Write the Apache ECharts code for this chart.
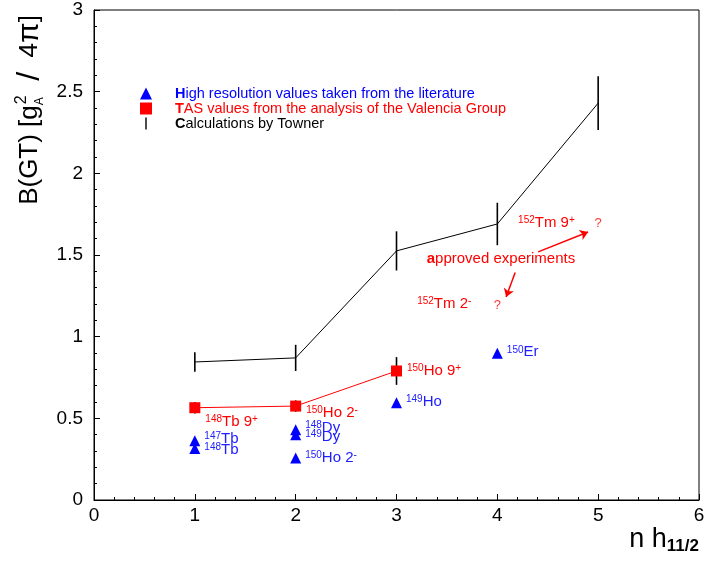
<!DOCTYPE html>
<html>
<head>
<meta charset="utf-8">
<script src="https://cdn.jsdelivr.net/npm/echarts@6/dist/echarts.min.js"></script>
<style>
  html, body { margin: 0; padding: 0; background: #fff; }
  #main { width: 708px; height: 564px; }
</style>
</head>
<body>
<div id="main"></div>
<script>
// Calculations by Towner
const townerX = [1, 2, 3, 4, 5];
const townerVal = [0.845, 0.87, 1.525, 1.69, 2.43];
const townerErr = [0.06, 0.08, 0.12, 0.13, 0.165];

// TAS values (Valencia group)
const tasX = [1, 2, 3];
const tasVal = [0.565, 0.575, 0.79];
const tasErr = [0.035, 0.035, 0.085];
const tasLabels = ['{s|148}Tb 9{s|+}', '{s|150}Ho 2{s|-}', '{s|150}Ho 9{s|+}'];

// high resolution values from literature
const hrX = [1, 1, 2, 2, 2, 3, 4];
const hrVal = [0.363, 0.316, 0.43, 0.40, 0.257, 0.596, 0.898];
const hrLabels = ['{s|147}Tb', '{s|148}Tb', '{s|148}Dy', '{s|149}Dy', '{s|150}Ho 2{s|-}', '{s|149}Ho', '{s|150}Er'];

// approved experiments (value unknown)
const expX = [5, 4];
const expY = [1.696, 1.194];

const BLUE = '#0000ff';
const RED = '#ff0000';
const FONT = '"Liberation Sans", Arial, sans-serif';

const supRich = {
    s: { fontSize: 10, lineHeight: 10, verticalAlign: 'top', fontFamily: FONT },
    b: { fontSize: 15, fontWeight: 'bold', fontFamily: FONT }
};

function errBars(xs, vals, errs) {
    return xs.map((x, i) => [x, vals[i], errs[i]]);
}

function renderErr(params, api) {
    const x = api.value(0);
    const lo = api.coord([x, api.value(1) - api.value(2)]);
    const hi = api.coord([x, api.value(1) + api.value(2)]);
    return {
        type: 'line',
        shape: { x1: lo[0], y1: lo[1], x2: hi[0], y2: hi[1] },
        style: { stroke: '#000', lineWidth: 1.6 }
    };
}

let myChart = echarts.init(document.querySelector('#main'));
let option = {
    animation: false,
    textStyle: { fontFamily: FONT },
    grid: {
        left: 94, right: 9, top: 10, bottom: 64,
        show: true, borderColor: '#000', borderWidth: 1
    },
    legend: {
        left: 135, top: 81,
        orient: 'vertical',
        itemWidth: 12, itemHeight: 12, itemGap: 0,
        textStyle: { fontSize: 14.5, fontFamily: FONT, padding: [0, 0, 0, 18],
            rich: { b: { fontSize: 14.5, fontWeight: 'bold', fontFamily: FONT } } },
        formatter: function (name) {
            return '{b|' + name.charAt(0) + '}' + name.slice(1);
        },
        data: [
            { name: 'High resolution values taken from the literature', icon: 'triangle',
              itemStyle: { color: BLUE }, textStyle: { color: BLUE } },
            { name: 'TAS values from the analysis of the Valencia Group', icon: 'rect',
              itemStyle: { color: RED }, textStyle: { color: RED } },
            { name: 'Calculations by Towner', icon: 'path://M0,0 L1.4,0 L1.4,12 L0,12 Z',
              itemStyle: { color: '#000' }, textStyle: { color: '#000' } }
        ]
    },
    xAxis: {
        type: 'value', min: 0, max: 6, interval: 1,
        axisLine: { onZero: false, lineStyle: { color: '#000', width: 1 } },
        axisTick: { inside: true, length: 6, lineStyle: { color: '#000' } },
        minorTick: { show: true, splitNumber: 5, length: 3, lineStyle: { color: '#000' } },
        splitLine: { show: false },
        axisLabel: { color: '#000', fontSize: 19, margin: 6, fontFamily: FONT }
    },
    yAxis: {
        type: 'value', min: 0, max: 3, interval: 0.5,
        axisLine: { show: true, onZero: false, lineStyle: { color: '#000', width: 1 } },
        axisTick: { show: true, inside: true, length: 6, lineStyle: { color: '#000' } },
        minorTick: { show: true, splitNumber: 5, length: 3, lineStyle: { color: '#000' } },
        splitLine: { show: false },
        axisLabel: { color: '#000', fontSize: 19, margin: 11, fontFamily: FONT }
    },
    graphic: [
        {
            type: 'text', x: 30, y: 110, rotation: Math.PI / 2,
            style: {
                text: 'B(GT) [g{sub|A}{sup|2}  {sl|/}  4{pi|π}]',
                fill: '#000', fontSize: 26, fontFamily: FONT,
                align: 'center', verticalAlign: 'middle',
                rich: {
                    sub: { fontSize: 12, fontFamily: FONT, verticalAlign: 'bottom', lineHeight: 24 },
                    sup: { fontSize: 16, fontFamily: FONT, verticalAlign: 'top', lineHeight: 16, padding: [0, 0, 0, -7] },
                    sl: { fontSize: 32, fontFamily: FONT },
                    pi: { fontSize: 30, fontFamily: FONT }
                }
            }
        },
        {
            type: 'text', right: 9, top: 526,
            style: {
                text: 'n h{sub|11/2}',
                fill: '#000', fontSize: 27, fontFamily: FONT,
                rich: {
                    sub: { fontSize: 17, fontWeight: 'bold', fontFamily: FONT, verticalAlign: 'bottom', lineHeight: 31 }
                }
            }
        }
    ],
    series: [
        {
            name: 'Calculations by Towner',
            type: 'custom',
            renderItem: renderErr,
            data: errBars(townerX, townerVal, townerErr),
            z: 1
        },
        {
            name: 'Calculations by Towner',
            type: 'line',
            data: townerX.map((x, i) => [x, townerVal[i]]),
            showSymbol: false,
            symbol: 'none',
            lineStyle: { color: '#000', width: 1 },
            itemStyle: { color: '#000' },
            z: 2
        },
        {
            name: 'TAS values from the analysis of the Valencia Group',
            type: 'custom',
            renderItem: renderErr,
            data: errBars(tasX, tasVal, tasErr),
            z: 1
        },
        {
            name: 'TAS values from the analysis of the Valencia Group',
            type: 'line',
            data: tasX.map((x, i) => [x, tasVal[i]]),
            symbol: 'rect',
            symbolSize: 11,
            lineStyle: { color: RED, width: 1 },
            itemStyle: { color: RED },
            label: {
                show: true,
                color: RED,
                fontSize: 15,
                fontFamily: FONT,
                position: 'right',
                formatter: p => tasLabels[p.dataIndex],
                rich: supRich
            },
            labelLayout: function (params) {
                if (params.dataIndex === 0) return { dx: 0, dy: 14 };
                if (params.dataIndex === 1) return { dx: 0, dy: 7 };
                return { dx: 0, dy: 0 };
            },
            z: 3
        },
        {
            name: 'High resolution values taken from the literature',
            type: 'scatter',
            data: hrX.map((x, i) => [x, hrVal[i]]),
            symbol: 'triangle',
            symbolSize: 11,
            itemStyle: { color: BLUE, opacity: 1 },
            label: {
                show: true,
                color: '#2020ff',
                fontSize: 15,
                fontFamily: FONT,
                position: 'right',
                distance: 4,
                formatter: p => hrLabels[p.dataIndex],
                rich: supRich
            },
            labelLayout: function (params) {
                const d = [-2, 1, -2, 2, 0, -1, -1][params.dataIndex];
                return { dy: d };
            },
            z: 3
        },
        {
            name: 'experiments',
            type: 'scatter',
            symbol: 'circle',
            symbolSize: 1,
            itemStyle: { color: 'rgba(0,0,0,0)' },
            data: expX.map((x, i) => [x, expY[i]]),
            label: {
                show: true,
                position: 'inside',
                color: RED,
                fontSize: 13,
                fontFamily: FONT,
                formatter: '?'
            },
            markLine: {
                silent: true,
                symbol: ['none', 'arrow'],
                symbolSize: 8,
                label: { show: false },
                lineStyle: { color: RED, width: 1.5, type: 'solid' },
                data: [
                    [{ coord: [4.405, 1.519] }, { coord: [4.90, 1.641] }],
                    [{ coord: [4.177, 1.393] }, { coord: [4.087, 1.243] }]
                ]
            },
            markPoint: {
                silent: true,
                symbol: 'circle',
                symbolSize: 0,
                itemStyle: { color: 'transparent' },
                label: {
                    show: true,
                    color: RED,
                    fontSize: 15,
                    fontFamily: FONT,
                    position: 'inside',
                    align: 'left',
                    formatter: p => p.name,
                    rich: supRich
                },
                data: [
                    { name: '{s|152}Tm 9{s|+}', coord: [4.206, 1.696] },
                    { name: '{b|a}pproved experiments', coord: [3.30, 1.476] },
                    { name: '{s|152}Tm 2{s|-}', coord: [3.205, 1.20] }
                ]
            },
            z: 3
        }
    ]
};
myChart.setOption(option);
</script>
</body>
</html>
